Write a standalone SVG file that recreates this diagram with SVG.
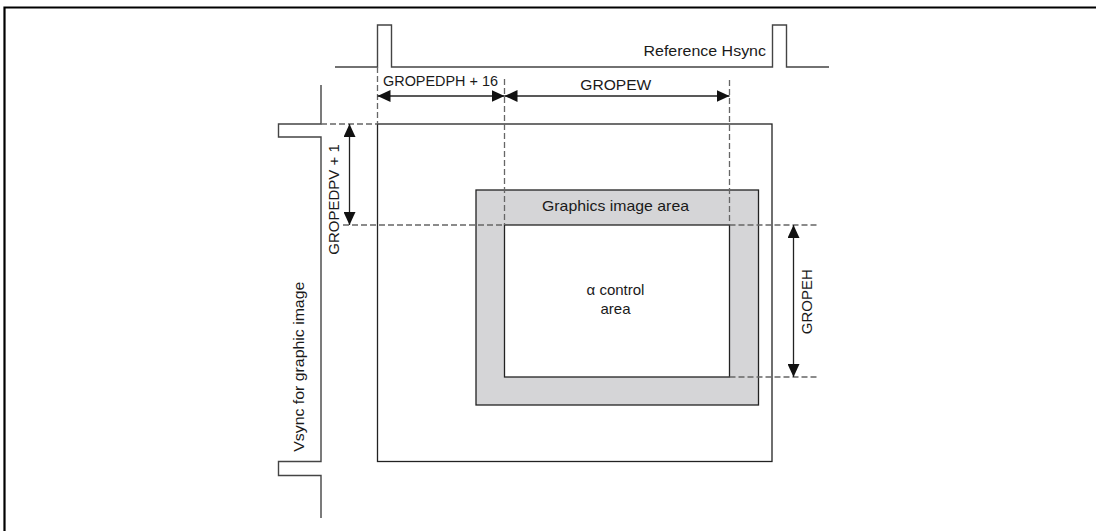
<svg xmlns="http://www.w3.org/2000/svg" width="1096" height="531" viewBox="0 0 1096 531">
<style>
text{font-family:"Liberation Sans",Arial,sans-serif;font-size:15px;fill:#1a1a1a}
.sig{fill:none;stroke:#444;stroke-width:1.4}
.solid{fill:none;stroke:#222;stroke-width:1.3}
.dash{fill:none;stroke:#666;stroke-width:1.3;stroke-dasharray:6,3}
.arr{fill:none;stroke:#222;stroke-width:1.3;marker-start:url(#ah);marker-end:url(#ah)}
</style>
<defs>
<marker id="ah" viewBox="0 0 13 12" markerWidth="13" markerHeight="12" refX="13" refY="6" orient="auto-start-reverse" markerUnits="userSpaceOnUse">
<path d="M0,0 L13,6 L0,12 Z" fill="#111"/>
</marker>
</defs>
<rect width="1096" height="531" fill="#fff"/>
<g id="frame">
<path d="M4.5,531 V7.5 H1096" fill="none" stroke="#000" stroke-width="2.2"/>
</g>
<g id="hsync">
<path class="sig" d="M335,67 H377.5 V25 H391.5 V67 H772.5 V25 H786.5 V67 H829"/>
<text x="643.5" y="56" textLength="122.5" lengthAdjust="spacingAndGlyphs">Reference Hsync</text>
</g>
<g id="vsync">
<path class="sig" d="M321,85 V124 H278.5 V137 H321 V461.5 H278.5 V475.5 H321 V518"/>
<text transform="translate(303.5,366.7) rotate(-90)" text-anchor="middle" textLength="170" lengthAdjust="spacingAndGlyphs">Vsync for graphic image</text>
</g>
<g id="screen">
<rect class="solid" x="377.5" y="124" width="394.5" height="337.5"/>
</g>
<g id="graphics-area">
<rect x="476" y="190" width="282.5" height="215" fill="#d5d5d7" stroke="#222" stroke-width="1.3"/>
<text x="615.5" y="210.5" text-anchor="middle" textLength="147" lengthAdjust="spacingAndGlyphs">Graphics image area</text>
</g>
<g id="alpha-area">
<rect x="504.5" y="225" width="225" height="152" fill="#fff" stroke="#222" stroke-width="1.3"/>
<text x="615.5" y="295" text-anchor="middle">α control</text>
<text x="615.5" y="314" text-anchor="middle">area</text>
</g>
<g id="connectors">
<path class="dash" d="M377.5,67 V124"/>
<path class="dash" d="M504.5,79 V225"/>
<path class="dash" d="M729.5,80 V225"/>
<path class="dash" d="M321,124 H377.5"/>
<path class="dash" d="M343,225 H504.5"/>
<path class="dash" d="M729.5,225 H817"/>
<path class="dash" d="M729.5,377 H817"/>
<path class="arr" d="M377.5,96 H504.5"/>
<path class="arr" d="M504.5,96 H729.5"/>
<path class="arr" d="M349.5,124 V225"/>
<path class="arr" d="M793.5,225 V377"/>
</g>
<g id="labels">
<text x="383" y="86" textLength="115" lengthAdjust="spacingAndGlyphs">GROPEDPH + 16</text>
<text x="615.8" y="90" text-anchor="middle" textLength="71" lengthAdjust="spacingAndGlyphs">GROPEW</text>
<text transform="translate(338.5,199.5) rotate(-90)" text-anchor="middle">GROPEDPV + 1</text>
<text transform="translate(811.5,301.7) rotate(-90)" text-anchor="middle">GROPEH</text>
</g>
</svg>
